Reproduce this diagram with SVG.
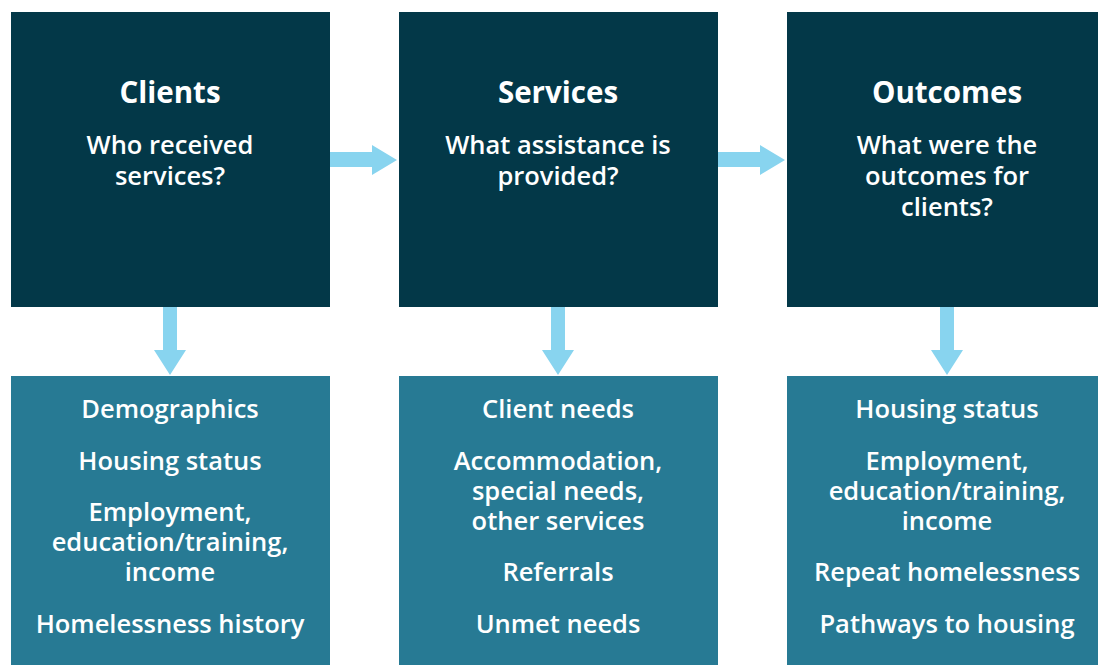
<svg xmlns="http://www.w3.org/2000/svg" width="1098" height="665" viewBox="0 0 1098 665">
<style>
.top{fill:#033848}
.bot{fill:#277A94}
.arr{fill:#88D4EF}
text{font-family:"Open Sans","Noto Sans","Liberation Sans",sans-serif;fill:#ffffff;text-anchor:middle}
.h{font-size:29.5px;font-weight:bold}
.s{font-size:25.5px;font-weight:600}
.b{font-size:25.5px;font-weight:600}
</style>
<rect width="1098" height="665" fill="#ffffff"/>
<g id="connectors">
<path class="arr" d="M330,152 H372 V145 L397,160 L372,175 V167 H330 Z"/>
<path class="arr" d="M718,152 H760 V145 L785,160 L760,175 V167 H718 Z"/>
<path class="arr" d="M163,307 V350 H154 L170,375 L186,350 H177 V307 Z"/>
<path class="arr" d="M551,307 V350 H542 L558,375 L574,350 H565 V307 Z"/>
<path class="arr" d="M940,307 V350 H931 L947,375 L963,350 H954 V307 Z"/>
</g>
<g id="clients">
<rect class="top" x="11" y="12" width="319" height="295"/>
<text class="h" x="170" y="103">Clients</text>
<text class="s" x="170" y="154">Who received</text>
<text class="s" x="170" y="185">services?</text>
</g>
<g id="services">
<rect class="top" x="399" y="12" width="319" height="295"/>
<text class="h" x="558" y="103">Services</text>
<text class="s" x="558" y="154">What assistance is</text>
<text class="s" x="558" y="185">provided?</text>
</g>
<g id="outcomes">
<rect class="top" x="787" y="12" width="320" height="295"/>
<text class="h" x="947" y="103">Outcomes</text>
<text class="s" x="947" y="154">What were the</text>
<text class="s" x="947" y="185">outcomes for</text>
<text class="s" x="947" y="216">clients?</text>
</g>
<g id="clients-detail">
<rect class="bot" x="11" y="376" width="319" height="289"/>
<text class="b" x="170" y="418">Demographics</text>
<text class="b" x="170" y="470">Housing status</text>
<text class="b" x="170" y="521">Employment,</text>
<text class="b" x="170" y="551">education/training,</text>
<text class="b" x="170" y="581">income</text>
<text class="b" x="170" y="633">Homelessness history</text>
</g>
<g id="services-detail">
<rect class="bot" x="399" y="376" width="319" height="289"/>
<text class="b" x="558" y="418">Client needs</text>
<text class="b" x="558" y="470">Accommodation,</text>
<text class="b" x="558" y="500">special needs,</text>
<text class="b" x="558" y="530">other services</text>
<text class="b" x="558" y="581">Referrals</text>
<text class="b" x="558" y="633">Unmet needs</text>
</g>
<g id="outcomes-detail">
<rect class="bot" x="787" y="376" width="320" height="289"/>
<text class="b" x="947" y="418">Housing status</text>
<text class="b" x="947" y="470">Employment,</text>
<text class="b" x="947" y="500">education/training,</text>
<text class="b" x="947" y="530">income</text>
<text class="b" x="947" y="581">Repeat homelessness</text>
<text class="b" x="947" y="633">Pathways to housing</text>
</g>
</svg>
